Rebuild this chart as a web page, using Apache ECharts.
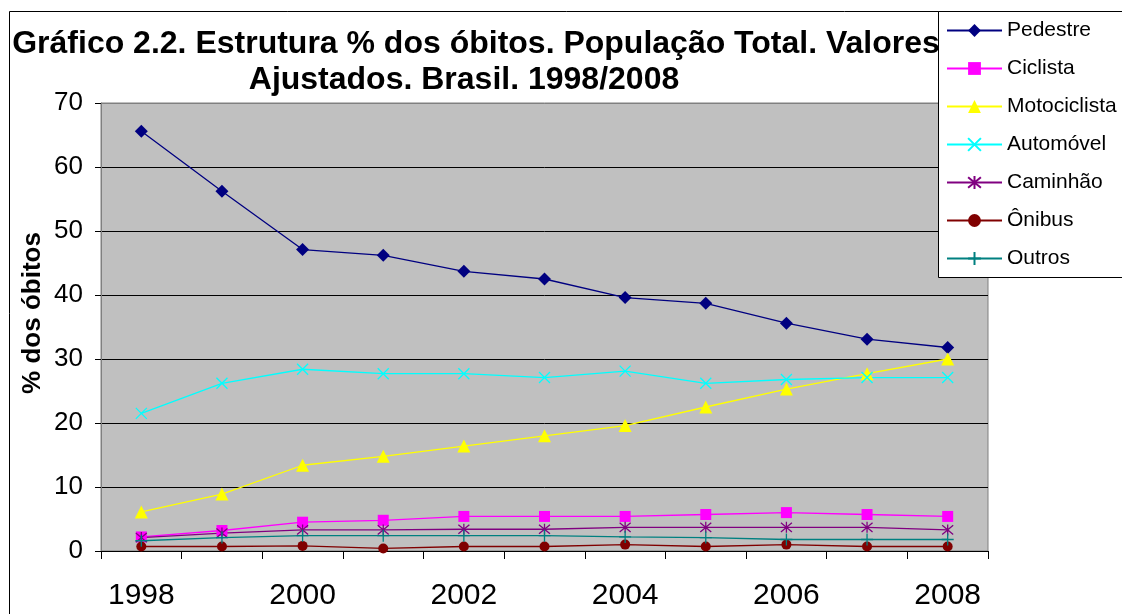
<!DOCTYPE html>
<html>
<head>
<meta charset="utf-8">
<script src="https://cdn.jsdelivr.net/npm/echarts@6/dist/echarts.min.js"></script>
<style>
html,body{margin:0;padding:0;background:#fff;}
#c{width:1122px;height:614px;}
</style>
</head>
<body>
<div id="c"></div>
<script>
var years = ['1998','1999','2000','2001','2002','2003','2004','2005','2006','2007','2008'];
var pedestre     = [65.6, 56.2, 47.1, 46.2, 43.7, 42.5, 39.6, 38.7, 35.6, 33.1, 31.8];
var ciclista     = [2.2, 3.2, 4.5, 4.8, 5.4, 5.4, 5.4, 5.7, 6.0, 5.7, 5.4];
var motociclista = [6.1, 8.9, 13.4, 14.8, 16.4, 18.0, 19.6, 22.5, 25.3, 27.7, 30.0];
var automovel    = [21.5, 26.2, 28.4, 27.7, 27.7, 27.1, 28.1, 26.2, 26.8, 27.1, 27.1];
var caminhao     = [2.1, 2.8, 3.3, 3.3, 3.4, 3.4, 3.7, 3.7, 3.7, 3.7, 3.3];
var onibus       = [0.7, 0.7, 0.8, 0.4, 0.7, 0.7, 1.0, 0.7, 1.0, 0.7, 0.7];
var outros       = [1.6, 2.1, 2.4, 2.4, 2.4, 2.4, 2.2, 2.1, 1.8, 1.8, 1.8];
var seriesNames  = ['Pedestre','Ciclista','Motociclista','Automóvel','Caminhão','Ônibus','Outros'];
var titleLine1 = 'Gráfico 2.2. Estrutura % dos óbitos. População Total. Valores';
var titleLine2 = 'Ajustados. Brasil. 1998/2008';
var yAxisTitle = '% dos óbitos';

var chart = echarts.init(document.getElementById('c'), null, {renderer:'canvas'});

function mk(name, data, color, symbol, size, stroke) {
  var s = {
    name: name, type: 'line', data: data,
    symbol: symbol, symbolSize: size,
    lineStyle: {color: color, width: 1.3},
    itemStyle: {color: color},
    emphasis: {disabled: true}
  };
  if (stroke) {
    s.itemStyle = {color: color, borderColor: color, borderWidth: 1.3};
  }
  return s;
}

var X = 'path://M0 0L10 10M10 0L0 10';
var AST = 'path://M0 0L10 10M10 0L0 10M5 -1L5 11';
var PLUS = 'path://M5 0L5 10M0 5L10 5';
var FONT = '"Liberation Sans", Arial, sans-serif';

var option = {
  animation: false,
  graphic: [
    {type:'rect', z: 1, shape:{x:9.5, y:11.5, width:1200, height:700}, style:{fill:'none', stroke:'#000', lineWidth:1}},
    {type:'text', z: 2, x: 476, y: 44, style:{text: titleLine1, font:'bold 32px ' + FONT, fill:'#000', align:'center', verticalAlign:'middle'}},
    {type:'text', z: 2, x: 464, y: 80, style:{text: titleLine2, font:'bold 32px ' + FONT, fill:'#000', align:'center', verticalAlign:'middle'}},
    {type:'text', z: 2, x: 33, y: 313, rotation: Math.PI/2, style:{text: yAxisTitle, font:'bold 26px ' + FONT, fill:'#000', align:'center', verticalAlign:'middle'}},
    {type:'rect', z: 3, shape:{x:938.5, y:11.5, width:300, height:266}, style:{fill:'#fff', stroke:'#000', lineWidth:1}}
  ],
  legend: {
    z: 10,
    orient: 'vertical',
    left: 946, top: 20,
    padding: 0,
    itemWidth: 55, itemHeight: 16, itemGap: 17,
    textStyle: {fontFamily: FONT, fontSize: 21, lineHeight: 20, color: '#000'},
    data: seriesNames
  },
  grid: {
    left: 101, top: 103, right: 134, bottom: 63,
    show: true, backgroundColor: '#C0C0C0', borderColor: '#808080', borderWidth: 1
  },
  xAxis: {
    type: 'category', data: years, boundaryGap: true,
    axisLine: {lineStyle: {color: '#000', width: 1}},
    axisTick: {show: true, interval: 0, length: 8, lineStyle: {color: '#000'}},
    axisLabel: {interval: 1, margin: 30, fontSize: 30, color: '#000', fontFamily: FONT},
    splitLine: {show: false}
  },
  yAxis: {
    type: 'value', min: 0, max: 70, interval: 10,
    axisLine: {show: true, lineStyle: {color: '#808080', width: 1}},
    axisTick: {show: true, length: 6, lineStyle: {color: '#000'}},
    axisLabel: {margin: 18, fontSize: 26, color: '#000', fontFamily: FONT},
    splitLine: {show: true, lineStyle: {color: ['#000','#000','#000','#000','#000','#000','#000','#808080'], width: 1}}
  },
  series: [
    mk('Pedestre', pedestre, '#000080', 'diamond', 13),
    mk('Ciclista', ciclista, '#FF00FF', 'rect', 11),
    mk('Motociclista', motociclista, '#FFFF00', 'triangle', 13),
    mk('Automóvel', automovel, '#00FFFF', X, 11, true),
    mk('Caminhão', caminhao, '#800080', AST, 11, true),
    mk('Ônibus', onibus, '#800000', 'circle', 10),
    mk('Outros', outros, '#008080', PLUS, 12, true)
  ]
};
chart.setOption(option);
</script>
</body>
</html>
